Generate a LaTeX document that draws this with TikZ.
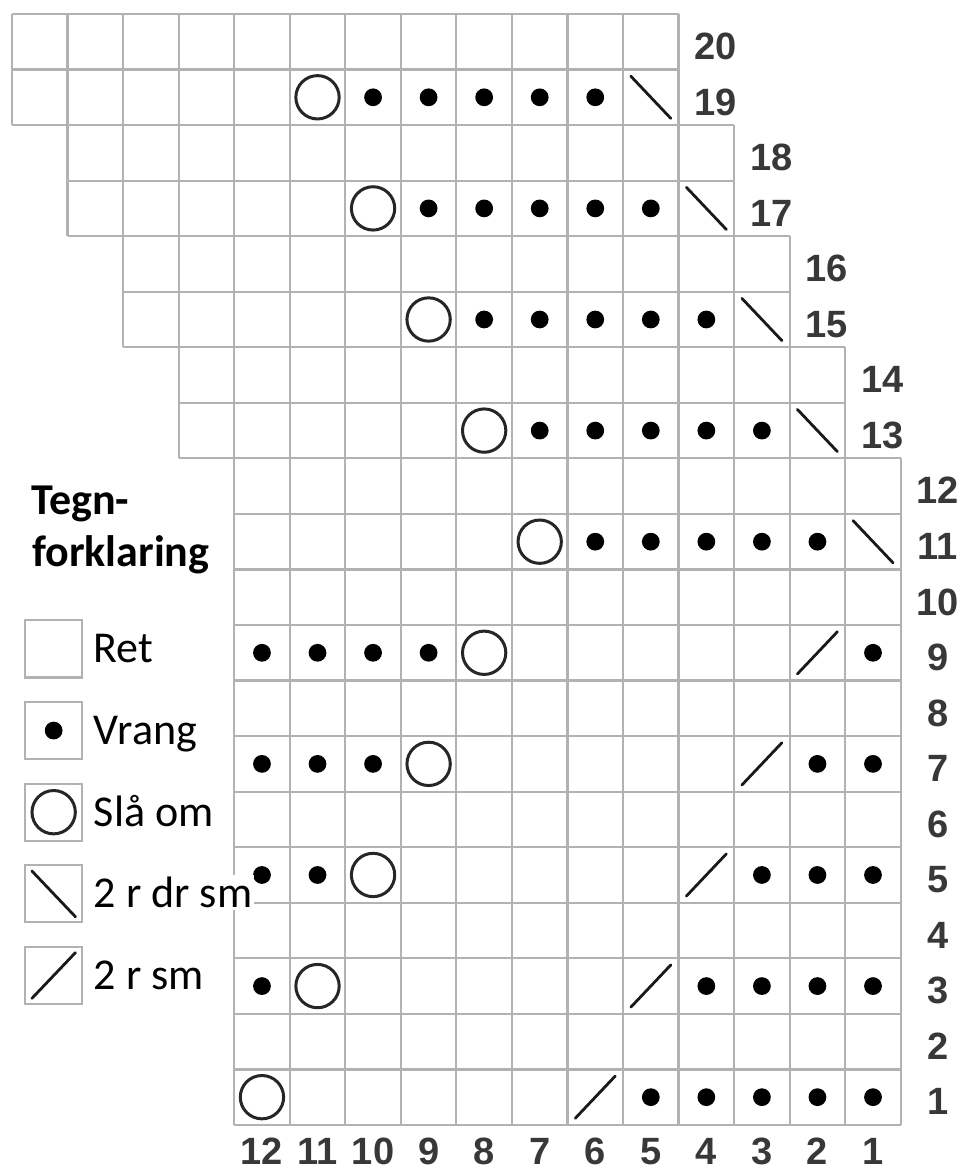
\documentclass[tikz,border=0pt]{standalone}
\usepackage{fontspec}
\setmainfont{Carlito}
\newfontfamily\numfont{Liberation Sans}
\usetikzlibrary{positioning}

\begin{document}
\begin{tikzpicture}[x=27.75pt, y=27.75pt,
  gridline/.style={draw=black!30, line width=1.1pt, step=1},
  yo/.style={draw=black!85, line width=1.5pt},
  dec/.style={draw=black!90, line width=1.4pt, line cap=round},
  rownum/.style={font=\numfont\bfseries\fontsize{19}{19}\selectfont, text=black!78, inner sep=0pt, anchor=base},
  legbox/.style={draw=black!30, line width=1.1pt, minimum size=28.5pt, inner sep=0pt},
  legtext/.style={font=\fontsize{22}{26}\selectfont, anchor=base west, fill=white, inner sep=1pt}]
\useasboundingbox (-0.216,-0.883) rectangle (17.045,20.252);

% chart grid, the edge steps one stitch every two rows
\draw[gridline] (4,0) grid (16,12);
\draw[gridline] (3,12) grid (15,14);
\draw[gridline] (2,14) grid (14,16);
\draw[gridline] (1,16) grid (13,18);
\draw[gridline] (0,18) grid (12,20);

% row and column numbers
\foreach \r in {1,...,20}{
  \pgfmathtruncatemacro\s{max(0,ceil(\r/2)-6)}
  \node[rownum] (row\r) at (16.67-\s,\r-.82) {\r};
}
\foreach \c in {1,...,12}
  \node[rownum] (col\c) at (16.5-\c,-.72) {\c};

% rows 1-9
\foreach \k in {1,...,5}{
  \pgfmathtruncatemacro\r{2*\k-1}
  \foreach \i in {4,...,15}{
    \ifnum\i<\numexpr3+\k\relax \fill (\i+.5,\r-.5) circle (.16); \fi
    \ifnum\i>\numexpr9+\k\relax \fill (\i+.5,\r-.5) circle (.16); \fi
  }
  \draw[yo] (3.5+\k,\r-.5) circle (.39);
  \draw[dec] (9.14+\k,\r-.88) -- (9.86+\k,\r-.12);
}
% rows 11-19
\foreach \k in {6,...,10}{
  \pgfmathtruncatemacro\r{2*\k-1}
  \draw[yo] (15.5-\k,\r-.5) circle (.39);
  \foreach \j in {16,...,20}
    \fill (\j-\k+.5,\r-.5) circle (.16);
  \draw[dec] (21.14-\k,\r-.12) -- (21.86-\k,\r-.88);
}

% legend
\node[font=\bfseries\fontsize{22}{26}\selectfont, anchor=base west, inner sep=1pt] (title) at (0.30,10.99) {Tegn-};
\node[font=\bfseries\fontsize{22}{26}\selectfont, anchor=base west, inner sep=1pt] (title2) at (0.32,10.05) {forklaring};

\node[legbox] (ret) at (0.75,8.57) {};
\node[legbox] (vrang) at (0.75,7.10) {};
\node[legbox] (slaaom) at (0.75,5.63) {};
\node[legbox] (drsm) at (0.75,4.16) {};
\node[legbox] (rsm) at (0.75,2.69) {};

\fill (vrang.center) circle (.16);
\draw[yo] (slaaom.center) circle (.39);
\draw[dec] ([shift={(.14,-.12)}]drsm.north west) -- ([shift={(-.14,.12)}]drsm.south east);
\draw[dec] ([shift={(.14,.12)}]rsm.south west) -- ([shift={(-.14,-.12)}]rsm.north east);

\node[legtext] (rettxt) at (1.43,8.32) {Ret};
\node[legtext] (vrangtxt) at (1.43,6.85) {Vrang};
\node[legtext] (slaaomtxt) at (1.43,5.38) {Slå om};
\node[legtext] (drsmtxt) at (1.43,3.91) {2 r dr sm};
\node[legtext] (rsmtxt) at (1.43,2.44) {2 r sm};
\end{tikzpicture}
\end{document}
